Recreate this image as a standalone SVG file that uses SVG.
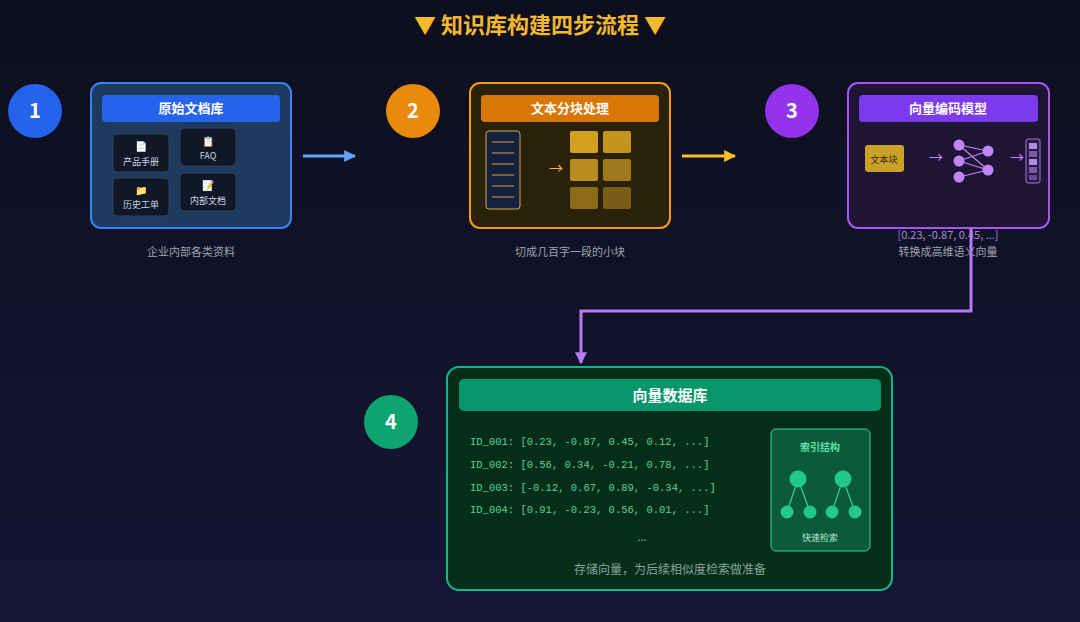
<svg xmlns="http://www.w3.org/2000/svg" width="1080" height="622" viewBox="0 0 1080 622">
<defs>
<linearGradient id="bg" x1="0" y1="0" x2="0" y2="1"><stop offset="0" stop-color="#0d0f1e"/><stop offset="1" stop-color="#151635"/></linearGradient>
<marker id="ab" viewBox="0 0 10 10" refX="9" refY="5" markerWidth="4" markerHeight="4" orient="auto"><path d="M0,0L10,5L0,10z" fill="#60a5fa"/></marker>
<marker id="ag" viewBox="0 0 10 10" refX="9" refY="5" markerWidth="4" markerHeight="4" orient="auto"><path d="M0,0L10,5L0,10z" fill="#fbbf24"/></marker>
<marker id="ap" viewBox="0 0 10 10" refX="9" refY="5" markerWidth="4" markerHeight="4" orient="auto"><path d="M0,0L10,5L0,10z" fill="#b57bf0"/></marker>
</defs>
<style>
text{font-family:"Noto Sans CJK SC","Liberation Sans",sans-serif}
.hd{font-size:13px;font-weight:bold;fill:#fff;text-anchor:middle}
.num{font-size:20px;font-weight:bold;fill:#fff;text-anchor:middle}
.cap{font-size:11px;fill:#9ca3af;text-anchor:middle}
.card{fill:#101828;stroke:#334155;stroke-width:1}
.ct{font-size:9px;fill:#cbd5e1;text-anchor:middle}
.code{font-family:"Liberation Mono",monospace;font-size:10.5px;fill:#5fcf95}
</style>
<rect width="1080" height="622" fill="url(#bg)"/>
<text x="540" y="33" font-size="22" font-weight="bold" fill="#f5b82e" text-anchor="middle">▼ 知识库构建四步流程 ▼</text>

<g id="node1">
<circle cx="35" cy="111" r="27" fill="#2563eb"/><text class="num" x="35" y="118">1</text>
<rect x="91" y="83" width="200" height="145" rx="10" fill="#1e3a5f" stroke="#3b82f6" stroke-width="2"/>
<rect x="102" y="95" width="178" height="27" rx="4" fill="#2563eb"/><text class="hd" x="191" y="113">原始文档库</text>
<rect class="card" x="113" y="134" width="56" height="38" rx="4"/><text x="141" y="150" font-size="10" text-anchor="middle">📄</text><text class="ct" x="141" y="165">产品手册</text>
<rect class="card" x="180" y="128" width="56" height="38" rx="4"/><text x="208" y="145" font-size="10" text-anchor="middle">📋</text><text class="ct" x="208" y="159">FAQ</text>
<rect class="card" x="113" y="178" width="56" height="38" rx="4"/><text x="141" y="194" font-size="10" text-anchor="middle">📁</text><text class="ct" x="141" y="208">历史工单</text>
<rect class="card" x="180" y="173" width="56" height="38" rx="4"/><text x="208" y="189" font-size="10" text-anchor="middle">📝</text><text class="ct" x="208" y="204">内部文档</text>
<text class="cap" x="191" y="256">企业内部各类资料</text>
</g>

<g id="node2">
<circle cx="413" cy="111" r="27" fill="#ea8a0c"/><text class="num" x="413" y="118">2</text>
<rect x="470" y="83" width="200" height="145" rx="10" fill="#2a2208" stroke="#f59e0b" stroke-width="2"/>
<rect x="481" y="95" width="178" height="27" rx="4" fill="#d97706"/><text class="hd" x="570" y="113">文本分块处理</text>
<rect x="486" y="131" width="34" height="78" rx="3" fill="#14213d" stroke="#d4a640"/>
<g stroke="#d4a640" stroke-width="1"><line x1="492" y1="142" x2="514" y2="142"/><line x1="492" y1="153" x2="514" y2="153"/><line x1="492" y1="164" x2="514" y2="164"/><line x1="492" y1="175" x2="514" y2="175"/><line x1="492" y1="186" x2="514" y2="186"/><line x1="492" y1="197" x2="514" y2="197"/></g>
<text x="556" y="173" font-size="14" fill="#f5b82e" text-anchor="middle">→</text>
<rect x="570" y="131" width="28" height="22" rx="2" fill="#d4a020"/><rect x="603" y="131" width="28" height="22" rx="2" fill="#c49420"/>
<rect x="570" y="159" width="28" height="22" rx="2" fill="#b88c1e"/><rect x="603" y="159" width="28" height="22" rx="2" fill="#9c7a1c"/>
<rect x="570" y="187" width="28" height="22" rx="2" fill="#8c6c1a"/><rect x="603" y="187" width="28" height="22" rx="2" fill="#7a5e18"/>
<text class="cap" x="570" y="256">切成几百字一段的小块</text>
</g>

<g id="node3">
<circle cx="792" cy="111" r="27" fill="#9333ea"/><text class="num" x="792" y="118">3</text>
<rect x="848" y="83" width="201" height="145" rx="10" fill="#1e1535" stroke="#a855f7" stroke-width="2"/>
<rect x="859" y="95" width="179" height="27" rx="4" fill="#7c3aed"/><text class="hd" x="948" y="113">向量编码模型</text>
<rect x="865" y="145" width="39" height="27" rx="3" fill="#c9a227"/><text x="884" y="163" font-size="9" fill="#3a2a05" text-anchor="middle">文本块</text>
<text x="936" y="162" font-size="14" fill="#c084fc" text-anchor="middle">→</text>
<g stroke="#c084fc" stroke-width="1.2"><line x1="959" y1="145" x2="988" y2="151"/><line x1="959" y1="145" x2="988" y2="170"/><line x1="959" y1="161" x2="988" y2="151"/><line x1="959" y1="161" x2="988" y2="170"/><line x1="959" y1="177" x2="988" y2="170"/></g>
<g fill="#c084fc"><circle cx="959" cy="145" r="5.5"/><circle cx="959" cy="161" r="5.5"/><circle cx="959" cy="177" r="5.5"/><circle cx="988" cy="151" r="5.5"/><circle cx="988" cy="170" r="5.5"/></g>
<text x="1017" y="162" font-size="14" fill="#c084fc" text-anchor="middle">→</text>
<rect x="1026" y="139" width="14" height="44" rx="2" fill="#2a1d45" stroke="#9f7ad0"/>
<rect x="1029" y="143" width="8" height="6" fill="#b08ae0"/><rect x="1029" y="151" width="8" height="6" fill="#7a5aa8"/><rect x="1029" y="159" width="8" height="6" fill="#b08ae0"/><rect x="1029" y="167" width="8" height="6" fill="#7a5aa8"/><rect x="1029" y="175" width="8" height="5" fill="#6a4a98"/>
<text x="948" y="239" font-size="11" fill="#a78bda" text-anchor="middle" font-family="Liberation Sans,sans-serif">[0.23, -0.87, 0.45, ...]</text>
<text class="cap" x="948" y="256">转换成高维语义向量</text>
</g>

<g id="connectors">
<line x1="303" y1="156" x2="355" y2="156" stroke="#60a5fa" stroke-width="3" marker-end="url(#ab)"/>
<line x1="682" y1="156" x2="735" y2="156" stroke="#fbbf24" stroke-width="3" marker-end="url(#ag)"/>
<path d="M971,228V311H581V363" fill="none" stroke="#b57bf0" stroke-width="3" marker-end="url(#ap)"/>
</g>

<g id="node4">
<circle cx="391" cy="422" r="27" fill="#0ea371"/><text class="num" x="391" y="429">4</text>
<rect x="447" y="367" width="445" height="223" rx="12" fill="#052e1a" stroke="#10b981" stroke-width="2"/>
<rect x="459" y="379" width="422" height="32" rx="5" fill="#059669"/><text x="670" y="401" font-size="15" font-weight="bold" fill="#fff" text-anchor="middle">向量数据库</text>
<text class="code" x="470" y="445">ID_001: [0.23, -0.87, 0.45, 0.12, ...]</text>
<text class="code" x="470" y="468">ID_002: [0.56, 0.34, -0.21, 0.78, ...]</text>
<text class="code" x="470" y="491">ID_003: [-0.12, 0.67, 0.89, -0.34, ...]</text>
<text class="code" x="470" y="513">ID_004: [0.91, -0.23, 0.56, 0.01, ...]</text>
<text x="642" y="541" font-size="11" fill="#5fcf95" text-anchor="middle">...</text>
<text x="670" y="574" font-size="12" fill="#8aa39a" text-anchor="middle">存储向量，为后续相似度检索做准备</text>
<rect x="771" y="429" width="99" height="122" rx="5" fill="#0b5a3c" stroke="#34d399" stroke-width="1"/>
<text x="820" y="451" font-size="10" font-weight="bold" fill="#5ee0a8" text-anchor="middle">索引结构</text>
<g stroke="#34d399" stroke-width="1.2"><line x1="798" y1="479" x2="787" y2="512"/><line x1="798" y1="479" x2="810" y2="512"/><line x1="843" y1="479" x2="832" y2="512"/><line x1="843" y1="479" x2="855" y2="512"/></g>
<g fill="#22c98a"><circle cx="798" cy="479" r="8.5"/><circle cx="843" cy="479" r="8.5"/><circle cx="787" cy="512" r="6.5"/><circle cx="810" cy="512" r="6.5"/><circle cx="832" cy="512" r="6.5"/><circle cx="855" cy="512" r="6.5"/></g>
<text x="820" y="541" font-size="9" fill="#b5e8d0" text-anchor="middle">快速检索</text>
</g>
</svg>
